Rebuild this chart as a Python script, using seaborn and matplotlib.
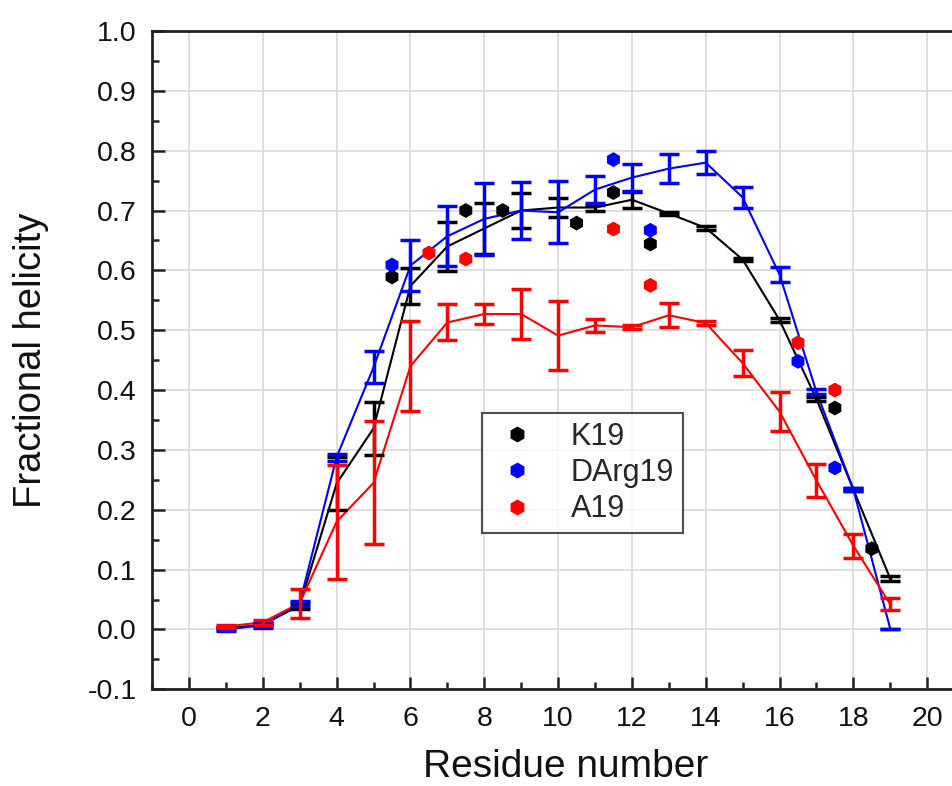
import numpy as np
import pandas as pd
import matplotlib
matplotlib.use("Agg")
import matplotlib.pyplot as plt
import seaborn as sns
from matplotlib.ticker import MultipleLocator
from matplotlib.lines import Line2D

residues = list(range(1, 20))

k19_mean = [0.002, 0.008, 0.040, 0.244, 0.336, 0.574, 0.640, 0.670, 0.700, 0.705,
            0.705, 0.718, 0.695, 0.671, 0.618, 0.517, 0.385, 0.234, 0.085]
k19_err = [0.002, 0.003, 0.005, 0.044, 0.044, 0.030, 0.041, 0.042, 0.030, 0.016,
           0.005, 0.013, 0.003, 0.003, 0.003, 0.004, 0.004, 0.003, 0.004]

darg19_mean = [0.000, 0.007, 0.044, 0.288, 0.438, 0.608, 0.657, 0.686, 0.700, 0.697,
               0.735, 0.755, 0.770, 0.780, 0.722, 0.593, 0.397, 0.234, 0.001]
darg19_err = [0.002, 0.004, 0.004, 0.006, 0.027, 0.043, 0.050, 0.060, 0.048, 0.052,
              0.022, 0.022, 0.024, 0.019, 0.017, 0.013, 0.004, 0.003, 0.000]

a19_mean = [0.005, 0.012, 0.044, 0.180, 0.245, 0.440, 0.513, 0.527, 0.527, 0.491,
            0.508, 0.505, 0.525, 0.512, 0.445, 0.364, 0.249, 0.140, 0.042]
a19_err = [0.003, 0.004, 0.024, 0.095, 0.103, 0.075, 0.030, 0.016, 0.042, 0.057,
           0.011, 0.003, 0.020, 0.003, 0.022, 0.032, 0.028, 0.020, 0.010]

k19_pts_x = [5.5, 7.5, 8.5, 10.5, 11.5, 12.5, 17.5, 18.5]
k19_pts_y = [0.589, 0.700, 0.700, 0.679, 0.730, 0.644, 0.370, 0.135]
darg19_pts_x = [5.5, 11.5, 12.5, 16.5, 17.5]
darg19_pts_y = [0.609, 0.785, 0.667, 0.448, 0.270]
a19_pts_x = [6.5, 7.5, 11.5, 12.5, 16.5, 17.5]
a19_pts_y = [0.629, 0.619, 0.669, 0.575, 0.479, 0.400]

names = ["K19", "DArg19", "A19"]
colors = {"K19": "#000000", "DArg19": "#0000FF", "A19": "#FF0000"}

sns.set_theme(style="white")
plt.rcParams["font.family"] = ["Liberation Sans", "DejaVu Sans"]

lines_df = pd.concat([
    pd.DataFrame({"residue": residues, "helicity": m, "err": e, "peptide": n})
    for n, m, e in [("K19", k19_mean, k19_err), ("DArg19", darg19_mean, darg19_err),
                    ("A19", a19_mean, a19_err)]
], ignore_index=True)
pts_df = pd.concat([
    pd.DataFrame({"residue": x, "helicity": y, "peptide": n})
    for n, x, y in [("K19", k19_pts_x, k19_pts_y), ("DArg19", darg19_pts_x, darg19_pts_y),
                    ("A19", a19_pts_x, a19_pts_y)]
], ignore_index=True)

fig = plt.figure(figsize=(9.53, 7.86), dpi=100)
ax = fig.add_axes([0.1592, 0.1230, 0.8408, 0.8376])

ax.grid(True, color="#dcdcdc", linewidth=1.3)
ax.set_axisbelow(True)

sns.lineplot(data=lines_df, x="residue", y="helicity", hue="peptide", hue_order=names,
             palette=colors, linewidth=1.5, legend=False, ax=ax, zorder=3)
for n in names:
    sub = lines_df[lines_df.peptide == n]
    ax.errorbar(sub.residue, sub.helicity, yerr=sub.err, fmt="none", ecolor=colors[n],
                elinewidth=2.5, capsize=7.5, capthick=2.5, zorder=4)
sns.scatterplot(data=pts_df, x="residue", y="helicity", hue="peptide", hue_order=names,
                palette=colors, marker="h", s=115, edgecolor="none", legend=False,
                ax=ax, zorder=5)

ax.set_xlim(-1.01, 20.70)
ax.set_ylim(-0.1, 1.0)
ax.xaxis.set_major_locator(MultipleLocator(2))
ax.xaxis.set_minor_locator(MultipleLocator(1))
ax.yaxis.set_major_locator(MultipleLocator(0.1))
ax.yaxis.set_minor_locator(MultipleLocator(0.05))
ax.set_xticks(np.arange(0, 21, 2))
ax.set_yticks(np.round(np.arange(-0.1, 1.01, 0.1), 1))
ax.set_yticklabels([f"{v:.1f}" for v in np.round(np.arange(-0.1, 1.01, 0.1), 1)])

ax.tick_params(axis="both", which="major", direction="in", length=9, width=1.8,
               labelsize=20.5, color="#222222", labelcolor="#111111",
               bottom=True, left=True, top=False, right=False)
ax.tick_params(axis="both", which="minor", direction="in", length=5, width=1.8,
               color="#222222", bottom=True, left=True, top=False, right=False)
ax.tick_params(axis="x", which="major", pad=12)
ax.tick_params(axis="y", which="major", pad=11)

for s in ["left", "bottom", "top"]:
    ax.spines[s].set_color("#222222")
    ax.spines[s].set_linewidth(2.0)
ax.spines["right"].set_visible(False)

ax.set_xlabel("Residue number", fontsize=28, color="#111111")
ax.set_ylabel("Fractional helicity", fontsize=27.5, color="#111111")
ax.xaxis.set_label_coords(0.517, -0.09)
ax.yaxis.set_label_coords(-0.128, 0.5)

handles = [Line2D([0], [0], marker="h", linestyle="none", markersize=11.5,
                  markerfacecolor=colors[n], markeredgecolor="none") for n in names]
leg = ax.legend(handles, names, loc="upper left", bbox_to_anchor=(0.412, 0.42),
                fontsize=22, frameon=True, fancybox=False, edgecolor="#222222",
                borderpad=0.3, labelspacing=0.2, handletextpad=0.9, borderaxespad=0,
                handlelength=1.7)
leg.get_frame().set_linewidth(1.5)
leg.get_frame().set_facecolor("white")
leg.set_zorder(10)

fig.savefig("out.png", dpi=100)
